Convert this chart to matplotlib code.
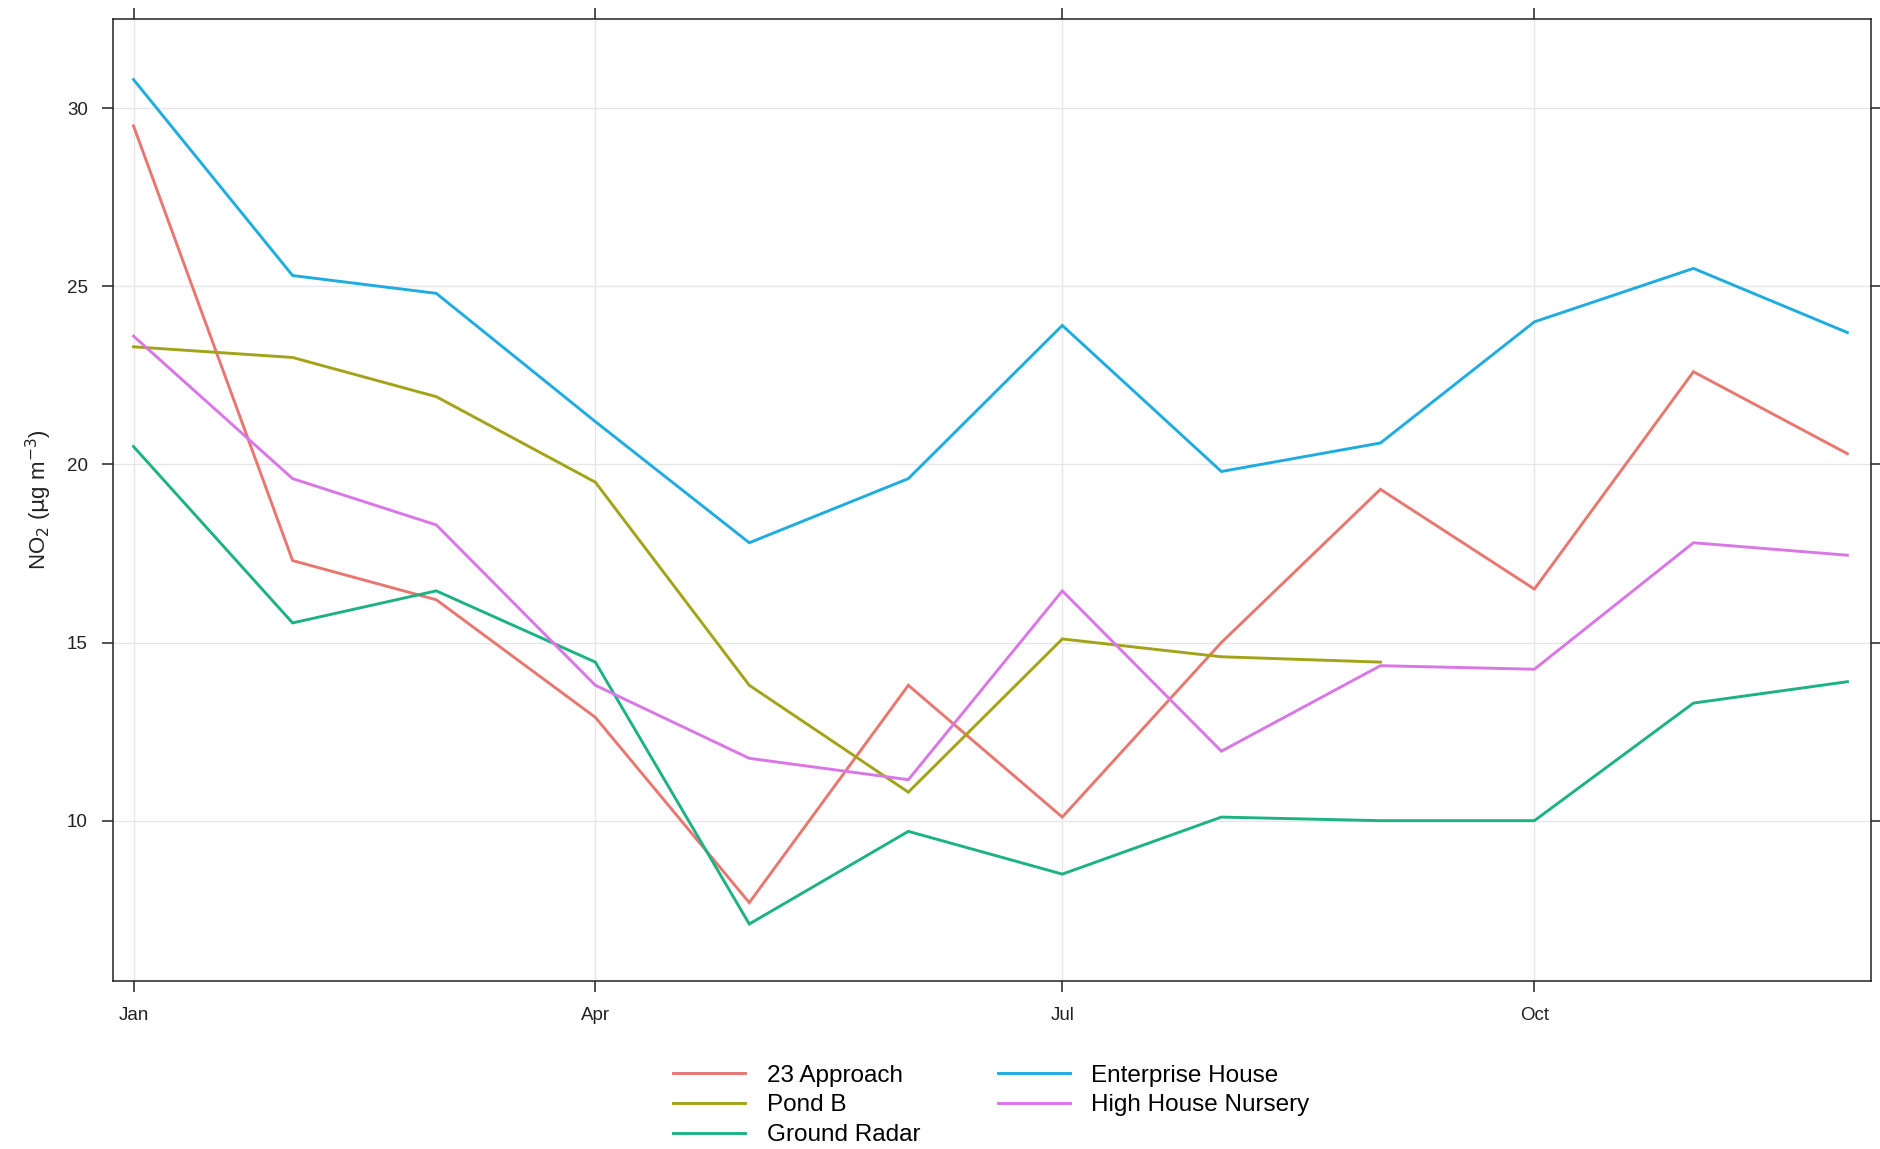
import numpy as np
import pandas as pd
import matplotlib
matplotlib.use("Agg")
import matplotlib.pyplot as plt
import matplotlib.dates as mdates

plt.rcParams['font.family'] = ['Liberation Sans', 'DejaVu Sans']

# Monthly mean NO2 concentrations (µg m-3), first of each month
months = pd.date_range("2019-01-01", periods=12, freq="MS")

approach_23 = [29.5, 17.3, 16.2, 12.9, 7.7, 13.8, 10.1, 15.0, 19.3, 16.5, 22.6, 20.3]
pond_b = [23.3, 23.0, 21.9, 19.5, 13.8, 10.8, 15.1, 14.6, 14.45, np.nan, np.nan, np.nan]
ground_radar = [20.5, 15.55, 16.45, 14.45, 7.1, 9.7, 8.5, 10.1, 10.0, 10.0, 13.3, 13.9]
enterprise_house = [30.8, 25.3, 24.8, 21.2, 17.8, 19.6, 23.9, 19.8, 20.6, 24.0, 25.5, 23.7]
high_house_nursery = [23.6, 19.6, 18.3, 13.8, 11.75, 11.15, 16.45, 11.95, 14.35, 14.25, 17.8, 17.45]

site_names = ["23 Approach", "Pond B", "Ground Radar", "Enterprise House", "High House Nursery"]
site_values = [approach_23, pond_b, ground_radar, enterprise_house, high_house_nursery]
site_colors = ["#E8776F", "#A3A31A", "#1DB283", "#1FACE0", "#D977E6"]

y_ticks = [10, 15, 20, 25, 30]
x_tick_dates = pd.to_datetime(["2019-01-01", "2019-04-01", "2019-07-01", "2019-10-01"])
x_tick_labels = ["Jan", "Apr", "Jul", "Oct"]

fig = plt.figure(figsize=(18.81, 11.49), dpi=100)
ax = fig.add_axes([113 / 1881, 1 - 981 / 1149, (1871 - 113) / 1881, (981 - 19) / 1149])

for name, vals, col in zip(site_names, site_values, site_colors):
    ax.plot(months, vals, color=col, lw=2.1, label=name, solid_joinstyle="miter")

start = pd.Timestamp("2019-01-01")
ax.set_xlim(mdates.date2num(start - pd.Timedelta(days=4)),
            mdates.date2num(start + pd.Timedelta(days=338.6)))
ax.set_ylim(5.5, 32.5)

ax.set_xticks(x_tick_dates)
ax.set_xticklabels(x_tick_labels)
ax.set_yticks(y_ticks)

ax.grid(True, color="#E6E6E6", lw=1.0)
ax.set_axisbelow(True)

for sp in ax.spines.values():
    sp.set_color("#222222")
    sp.set_linewidth(1.1)

ax.tick_params(axis="both", direction="out", length=8, width=1.1, color="#222222",
               labelsize=13.5, labelcolor="#222222", top=True, right=True,
               labeltop=False, labelright=False)
ax.tick_params(axis="y", pad=10)
ax.tick_params(axis="x", pad=11)

ax.set_ylabel(r"NO$_2$ ($\mathrm{\mu}$g m$^{-3}$)", fontsize=16, color="#222222", labelpad=9)

fig.legend(loc="center", bbox_to_anchor=(0.527, 0.038), ncol=2, frameon=False,
           fontsize=17.5, handlelength=2.96, handletextpad=0.89, columnspacing=3.2,
           labelspacing=0.32)

fig.savefig("out.png", dpi=100, facecolor="white")
